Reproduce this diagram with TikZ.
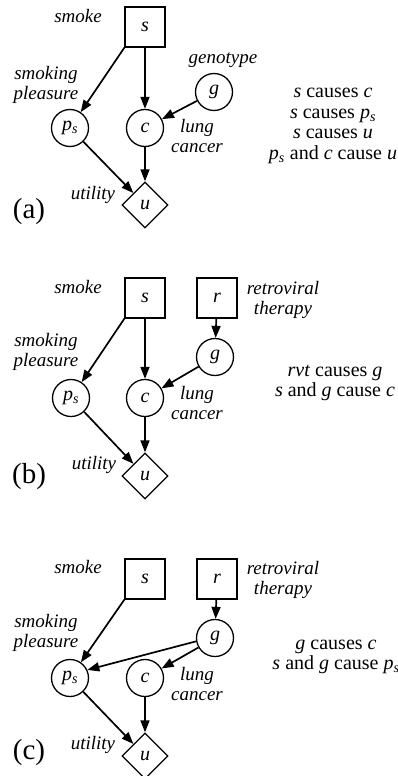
\documentclass[tikz,border=0pt]{standalone}
\usepackage{fontspec}
\setmainfont{Liberation Serif}
\usetikzlibrary{arrows.meta,shapes.geometric}

\newcommand{\pvar}{\textit{p}\textsubscript{\textit{s}}}

\begin{document}
\begin{tikzpicture}[x = 1pt, y = -1pt,
    box/.style = {draw, line width=1.3pt, minimum size=40pt, inner sep=0pt, font=\fontsize{20}{20}\selectfont\itshape},
    var/.style = {draw, circle, line width=1.3pt, minimum size=37pt, inner sep=0pt, font=\fontsize{20}{20}\selectfont\itshape},
    util/.style = {draw, diamond, line width=1.3pt, minimum size=46pt, inner sep=0pt, font=\fontsize{20}{20}\selectfont\itshape},
    lbl/.style = {align=center, font=\fontsize{19}{20}\selectfont\itshape},
    txt/.style = {align=center, font=\fontsize{20}{20.5}\selectfont},
    tag/.style = {font=\fontsize{29}{30}\selectfont},
    arr/.style = {-{Triangle[length=12pt, width=9pt]}, line width=1.7pt}]
    \useasboundingbox (0,0) rectangle (398,776);

    % (a)
    \node[box] (sa) at (145,27) {s};
    \node[var] (ga) at (214,92) {g};
    \node[var] (psa) at (70,128) {\pvar};
    \node[var] (ca) at (145,128) {c};
    \node[util] (ua) at (145,205) {u};
    \node[lbl] (smokea) at (78,16) {smoke};
    \node[lbl] (genoa) at (223,60) {genotype};
    \node[lbl] (pleasa) at (46,85) {smoking\\pleasure};
    \node[lbl] (lunga) at (197,136) {lung\\cancer};
    \node[lbl] (utila) at (93,195) {utility};
    \node[tag] (taga) at (29,212) {(a)};
    \node[txt] (rulea) at (333,126) {\textit{s} causes \textit{c}\\\textit{s} causes \pvar\\\textit{s} causes \textit{u}\\\pvar{} and \textit{c} cause \textit{u}};
    \draw[arr] (sa.south west) -- (psa);
    \draw[arr] (sa) -- (ca);
    \draw[arr] (ga) -- (ca);
    \draw[arr] (psa) -- (ua);
    \draw[arr] (ca) -- (ua);

    % (b)
    \node[box] (sb) at (145,298) {s};
    \node[box] (rb) at (217,298) {r};
    \node[var] (gb) at (215,357) {g};
    \node[var] (psb) at (71,398) {\pvar};
    \node[var] (cb) at (145,398) {c};
    \node[util] (ub) at (145,476) {u};
    \node[lbl] (smokeb) at (78,287) {smoke};
    \node[lbl] (retrob) at (283,300) {retroviral\\therapy};
    \node[lbl] (pleasb) at (46,352) {smoking\\pleasure};
    \node[lbl] (lungb) at (197,403) {lung\\cancer};
    \node[lbl] (utilb) at (94,465) {utility};
    \node[tag] (tagb) at (29,477) {(b)};
    \node[txt] (ruleb) at (335,383) {\textit{rvt} causes \textit{g}\\\textit{s} and \textit{g} cause \textit{c}};
    \draw[arr] (sb.south west) -- (psb);
    \draw[arr] (sb) -- (cb);
    \draw[arr] (rb) -- (gb);
    \draw[arr] (gb) -- (cb);
    \draw[arr] (psb) -- (ub);
    \draw[arr] (cb) -- (ub);

    % (c)
    \node[box] (sc) at (145,579) {s};
    \node[box] (rc) at (217,579) {r};
    \node[var] (gc) at (215,638) {g};
    \node[var] (psc) at (70,678) {\pvar};
    \node[var] (cc) at (145,678) {c};
    \node[util] (uc) at (145,756) {u};
    \node[lbl] (smokec) at (78,567) {smoke};
    \node[lbl] (retroc) at (283,580) {retroviral\\therapy};
    \node[lbl] (pleasc) at (46,633) {smoking\\pleasure};
    \node[lbl] (lungc) at (197,684) {lung\\cancer};
    \node[lbl] (utilc) at (93,745) {utility};
    \node[tag] (tagc) at (29,753) {(c)};
    \node[txt] (rulec) at (336,657) {\textit{g} causes \textit{c}\\\textit{s} and \textit{g} cause \pvar};
    \draw[arr] (sc.south west) -- (psc);
    \draw[arr] (rc) -- (gc);
    \draw[arr] (gc.190) -- (psc.25);
    \draw[arr] (gc) -- (cc);
    \draw[arr] (psc) -- (uc);
    \draw[arr] (cc) -- (uc);
\end{tikzpicture}
\end{document}
